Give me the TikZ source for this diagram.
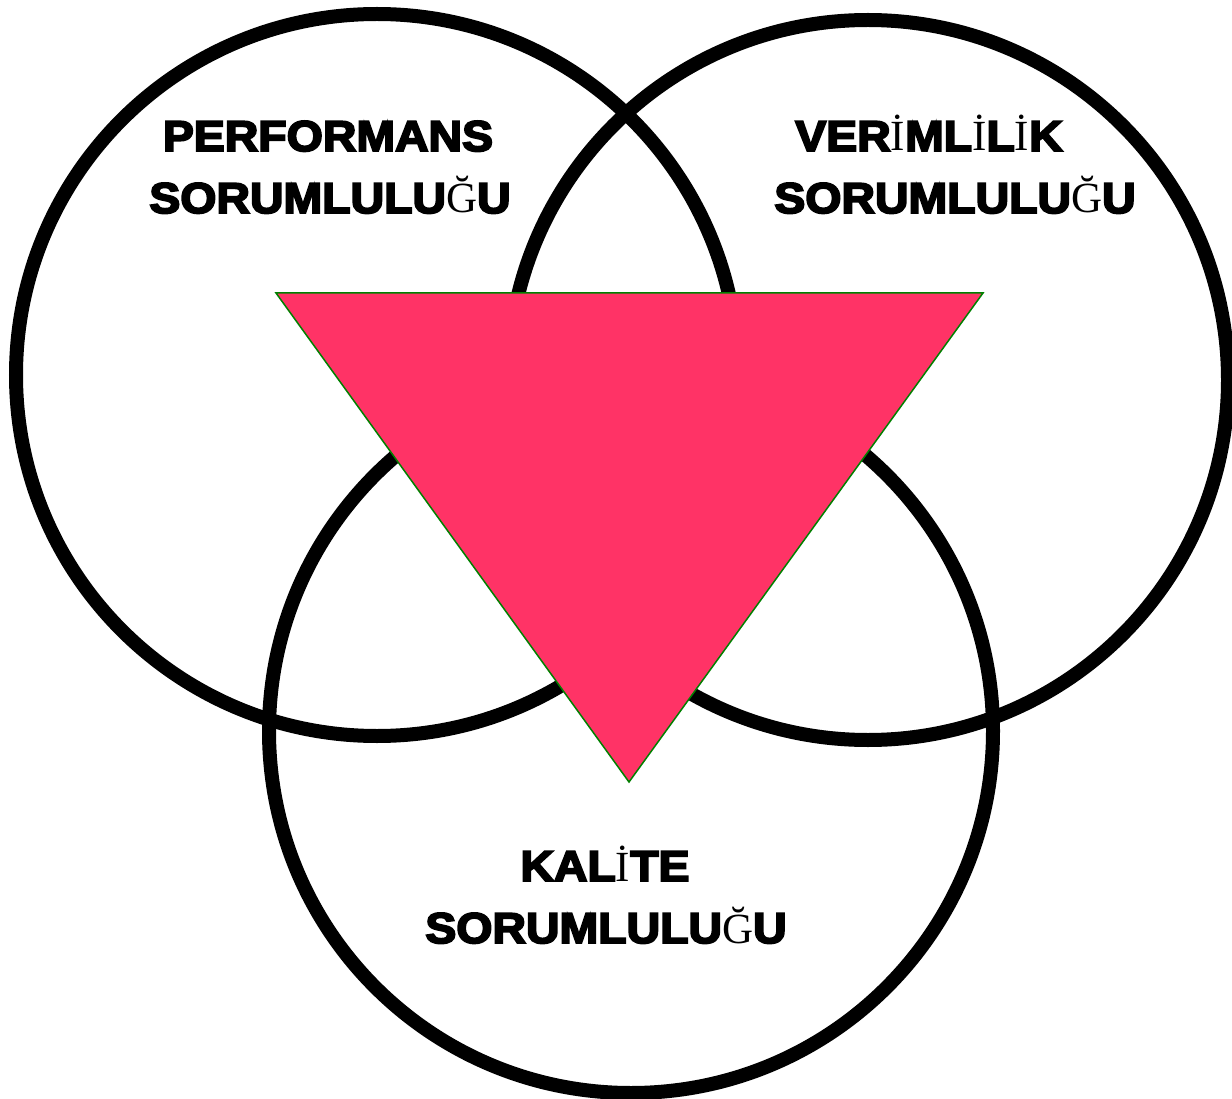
\documentclass[tikz,border=0pt]{standalone}
\usepackage{fontspec}
\newfontfamily\blk[FakeBold=4.5,FakeStretch=1.08]{Liberation Sans Bold}
\newfontfamily\ser{Liberation Serif}
\newcommand\serG{{\ser Ğ}}
\newcommand\serI{{\ser İ}}
\definecolor{trired}{HTML}{FF3366}
\definecolor{trigreen}{HTML}{008000}
\begin{document}
\begin{tikzpicture}[x=1pt,y=-1pt,
  ring/.style={draw=black, line width=14pt},
  tri/.style={fill=trired, draw=trigreen, line width=1.5pt, line join=miter},
  lbl/.style={font=\blk\fontsize{43}{50}\selectfont, anchor=base, inner sep=0pt}]
\useasboundingbox (0,0) rectangle (1232,1099);
\draw[ring] (377,375) circle[radius=361pt];
\draw[ring] (868,380) circle[radius=360pt];
\draw[ring] (631,731) circle[radius=362pt];
\filldraw[tri] (276,293) -- (983,293) -- (629,782) -- cycle;
\node[lbl] (p1) at (328,151) {PERFORMANS};
\node[lbl] (p2) at (330,213) {SORUMLULU\serG U};
\node[lbl] (v1) at (929,151) {VER\serI ML\serI L\serI K};
\node[lbl] (v2) at (955,213) {SORUMLULU\serG U};
\node[lbl] (k1) at (605,881) {KAL\serI TE};
\node[lbl] (k2) at (606,943) {SORUMLULU\serG U};
\end{tikzpicture}
\end{document}
